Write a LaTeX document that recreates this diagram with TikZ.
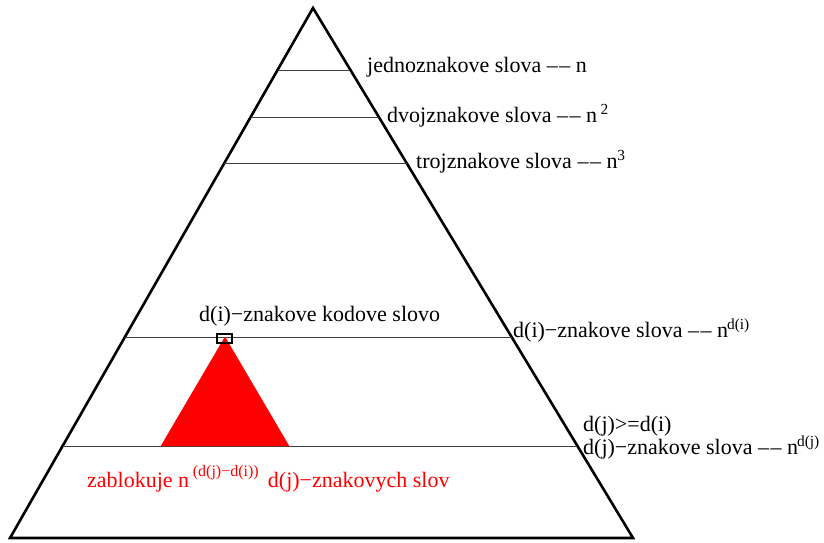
\documentclass[tikz,border=0pt]{standalone}
\usepackage{fontspec}
\setmainfont{Liberation Serif}
\usetikzlibrary{calc}
\newcommand{\dd}{–\kern1.5pt–}

\begin{document}
\begin{tikzpicture}[x=1pt,y=-1pt,
  every node/.style={font=\fontsize{22}{25}\selectfont,inner sep=0pt},
  lbl/.style={anchor=base west},
  level/.style={draw=black!75,line width=0.8pt},
  outer/.style={draw=black,line width=2.6pt,line join=miter},
  blok/.style={fill=red,draw=red,line width=0.4pt},
  sq/.style={draw=black,line width=1.2pt}]
\useasboundingbox (0,0) rectangle (824,542);
% big pyramid
\coordinate (top) at (313,8);
\coordinate (bl) at (10,538);
\coordinate (br) at (633,538);
\draw[outer] (bl) -- (top) -- (br) -- cycle;
% levels
\foreach \t/\n in {0.117/l1,0.2057/l2,0.2925/l3,0.6208/li,0.8264/lj}{
  \coordinate (\n a) at ($(top)!\t!(bl)$);
  \coordinate (\n b) at ($(top)!\t!(br)$);
  \draw[level] (\n a) -- (\n b);
}
% blocked words
\coordinate (rtop) at (225,337);
\coordinate (rl) at (161,446);
\coordinate (rr) at (289,446);
\draw[blok] (rl) -- (rtop) -- (rr) -- cycle;
\draw[sq] ($(rtop)+(-8,-3)$) rectangle ($(rtop)+(7,6)$);
% labels
\node[lbl] (t1) at (367,72) {jednoznakove slova \dd{} n};
\node[lbl] (t2) at (387,122) {dvojznakove slova \dd{} n\,\textsuperscript{2}};
\node[lbl] (t3) at (416,168) {trojznakove slova \dd{} n\textsuperscript{3}};
\node[lbl] (kod) at (199,321) {d(i)−znakove kodove slovo};
\node[lbl] (ti) at (513,337) {d(i)−znakove slova \dd{} n\kern-1pt\textsuperscript{d(i)}};
\node[lbl] (cmp) at (583,431) {d(j)>=d(i)};
\node[lbl] (tj) at (583,454) {d(j)−znakove slova \dd{} n\kern-1pt\textsuperscript{d(j)}};
\node[lbl,text=red] (zab) at (87,487) {zablokuje n\,\raisebox{0.5em}{\fontsize{16}{18}\selectfont (d(j)−d(i))}\, d(j)−znakovych slov};
\end{tikzpicture}
\end{document}
